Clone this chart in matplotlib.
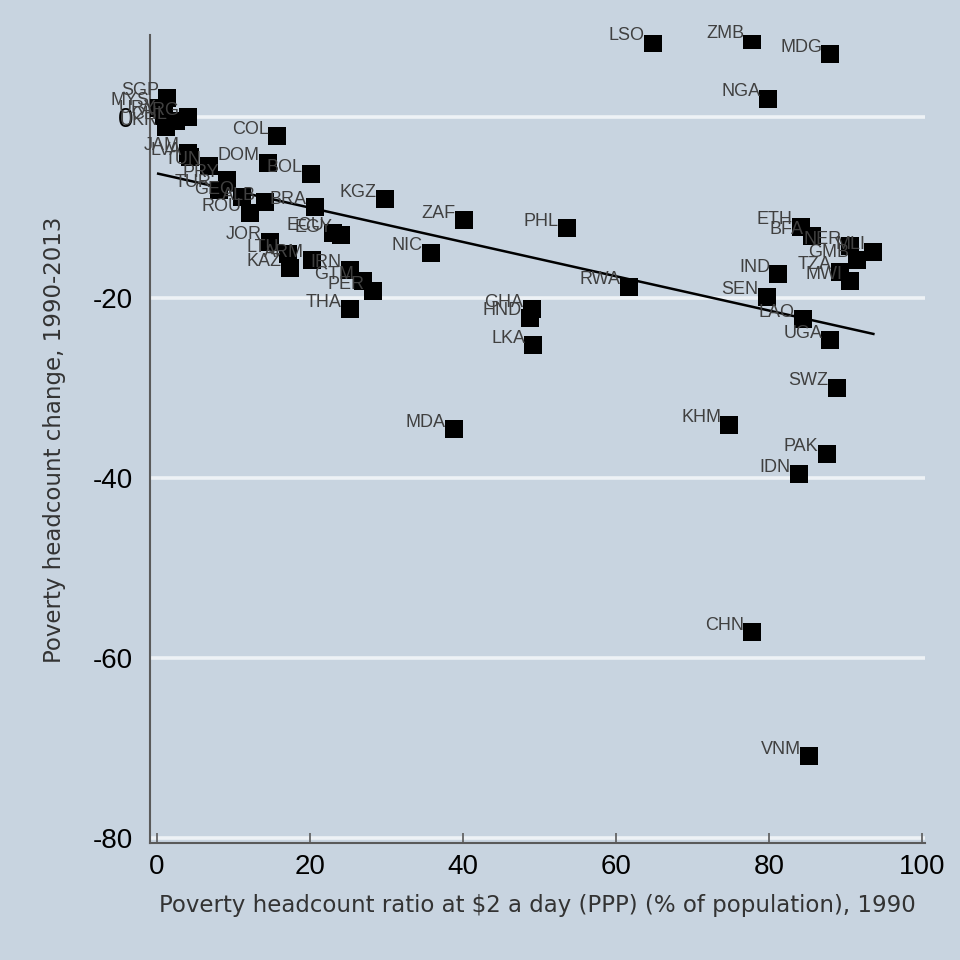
import matplotlib
matplotlib.use("Agg")
import matplotlib.pyplot as plt
import numpy as np

plt.rcParams['font.family'] = ['Liberation Sans', 'DejaVu Sans']
plt.rcParams['axes.unicode_minus'] = False

# Country codes, poverty ratio 1990 and change 1990-2013
codes = ["SGP", "MYS", "URY", "CHL", "ARG", "UKR", "JAM", "LVA",
         "TUN", "PRY", "TUR", "GEO", "ALB", "ROU", "BRA", "ECU", "EGY",
         "JOR", "LTU", "KAZ", "ARM", "IRN", "GTM", "PER", "THA",
         "DOM", "COL", "BOL", "KGZ",
         "ZAF", "PHL", "NIC", "RWA", "GHA", "HND", "LKA", "MDA", "KHM",
         "PAK", "IDN", "CHN", "VNM", "SWZ", "UGA", "LAO", "SEN", "IND",
         "ETH", "BFA", "NER", "MLI", "GMB", "TZA", "MWI",
         "LSO", "ZMB", "MDG", "NGA"]
pov1990 = [1.4, 0.2, 1.0, 2.5, 4.1, 1.2, 4.1, 4.4,
           6.9, 9.2, 8.2, 11.2, 14.1, 12.2, 20.7, 23.0, 24.1,
           14.8, 17.1, 17.4, 20.3, 25.2, 26.9, 28.2, 25.2,
           14.5, 15.7, 20.1, 29.8,
           40.1, 53.6, 35.8, 61.7, 49.0, 48.8, 49.2, 38.8, 74.8,
           87.5, 83.9, 77.8, 85.2, 88.8, 88.0, 84.4, 79.7, 81.2,
           84.1, 85.6, 90.6, 93.6, 91.5, 89.3, 90.6,
           64.8, 77.8, 88.0, 79.9]
change = [2.2, 1.1, 0.2, -0.4, 0.0, -1.1, -3.9, -4.4,
          -5.4, -6.9, -8.0, -8.8, -9.4, -10.6, -9.9, -12.8, -13.0,
          -13.8, -15.2, -16.7, -15.8, -16.9, -18.2, -19.3, -21.3,
          -5.0, -2.1, -6.3, -9.1,
          -11.4, -12.3, -15.0, -18.8, -21.3, -22.2, -25.3, -34.6, -34.1,
          -37.3, -39.6, -57.1, -70.9, -30.0, -24.7, -22.4, -19.9, -17.4,
          -12.1, -13.2, -14.3, -14.9, -15.8, -17.1, -18.2,
          8.3, 8.6, 7.0, 2.1]

x = np.array(pov1990)
y = np.array(change)

bg = "#c8d4e0"
fig = plt.figure(figsize=(9.6, 9.6), dpi=100, facecolor=bg)
ax = fig.add_axes([0.156, 0.122, 0.808, 0.842])
ax.set_facecolor(bg)

# grid lines (white, horizontal only)
for g in [0, -20, -40, -60, -80]:
    ax.axhline(g, color="#eef2f6", lw=2.6, zorder=0)

ax.scatter(x, y, marker="s", s=160, color="black", zorder=3, linewidths=0)
for c, xi, yi in zip(codes, x, y):
    ax.annotate(c, (xi, yi), xytext=(-6, 5), textcoords="offset points",
                ha="right", va="center", fontsize=13, color="#404040", zorder=4)

# linear fit
b, a = np.polyfit(x, y, 1)
xs = np.array([x.min(), x.max()])
ax.plot(xs, a + b * xs, color="black", lw=1.8, zorder=2)

ax.set_xlim(-0.9, 100.4)
ax.set_ylim(-80.5, 9.2)
ax.set_xticks([0, 20, 40, 60, 80, 100])
ax.set_yticks([0, -20, -40, -60, -80])
ax.tick_params(axis="x", direction="in", length=7, width=1.2, color="#5a5a5a",
               labelsize=20, pad=8, labelcolor="black")
ax.tick_params(axis="y", length=0, labelsize=20, pad=12, labelcolor="black")
for s in ["top", "right"]:
    ax.spines[s].set_visible(False)
for s in ["left", "bottom"]:
    ax.spines[s].set_color("#5a5a5a")
    ax.spines[s].set_linewidth(1.5)

ax.set_xlabel("Poverty headcount ratio at $2 a day (PPP) (% of population), 1990",
              fontsize=16.5, color="#333333", family="DejaVu Sans")
ax.set_ylabel("Poverty headcount change, 1990-2013", fontsize=16.5,
              color="#333333", family="DejaVu Sans")
ax.xaxis.set_label_coords(0.5, -0.063)
ax.yaxis.set_label_coords(-0.108, 0.499)

fig.savefig("out.png", dpi=100, facecolor=bg)
